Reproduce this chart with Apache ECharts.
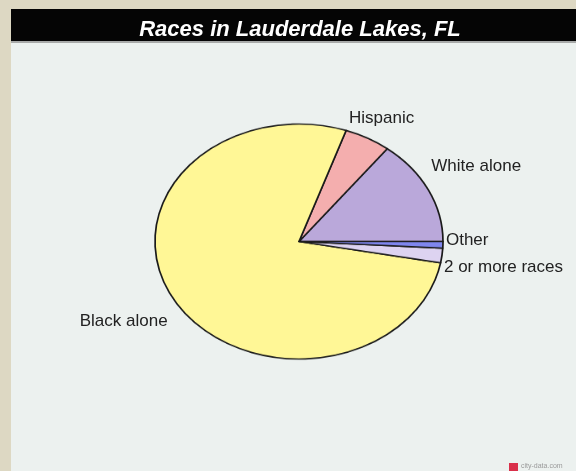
<!DOCTYPE html>
<html>
<head>
<meta charset="utf-8">
<script src="https://cdn.jsdelivr.net/npm/echarts@6/dist/echarts.min.js"></script>
<style>
  html, body { margin: 0; padding: 0; background: #ddd8c3; }
  #wrap { position: relative; width: 576px; height: 471px; overflow: hidden; }
  #bg, #pie { position: absolute; left: 0; top: 0; width: 576px; height: 471px; }
  #bg { z-index: 1; }
  #pie { z-index: 2; transform-origin: 299px 241.5px; transform: scaleY(0.816); }
</style>
</head>
<body>
<div id="wrap"><div id="bg"></div><div id="pie"></div></div>
<script>
// ---- data ----
const categories = ['White alone', 'Hispanic', 'Black alone', '2 or more races', 'Other'];
const shares = [14.5, 5.2, 77.4, 2.0, 0.9];
const titleText = 'Races in Lauderdale Lakes, FL';

// ---- styles / layout ----
const sliceColors = ['#baa8da', '#f4aeae', '#fff796', '#ddd3f1', '#7f86ee'];
const CX = 299, CY = 241.5, RX = 144, RY = 117.5;
// label placement relative to the ellipse edge at each slice's mid angle
const labelNudge = [
  { dx: 3, dy: -23, align: 'left' },
  { dx: 14, dy: -20, align: 'center' },
  { dx: -7, dy: 21, align: 'right' },
  { dx: 2, dy: 12, align: 'left' },
  { dx: 3, dy: -5, align: 'left' }
];
const fontFam = '"Liberation Sans", Arial, Helvetica, sans-serif';

const pieData = categories.map((c, i) => ({ name: c, value: shares[i], itemStyle: { color: sliceColors[i] } }));
const total = shares.reduce((a, b) => a + b, 0);
const midAngles = [];
let acc = 0;
shares.forEach(v => { midAngles.push((acc + v / 2) / total * 360); acc += v; });

// ---- pie chart (scaled vertically into an ellipse) ----
const pieChart = echarts.init(document.getElementById('pie'), null, { renderer: 'canvas' });
pieChart.setOption({
  backgroundColor: 'transparent',
  animation: false,
  series: [{
    type: 'pie',
    center: [CX, CY],
    radius: RX,
    startAngle: 0,
    clockwise: false,
    silent: true,
    label: { show: false },
    labelLine: { show: false },
    itemStyle: { borderColor: '#1a1a1a', borderWidth: 1.7 },
    data: pieData
  }]
});

// ---- background, title and labels ----
const bgChart = echarts.init(document.getElementById('bg'), null, { renderer: 'canvas' });
bgChart.setOption({
  backgroundColor: '#ddd8c3',
  animation: false,
  graphic: [
    { type: 'rect', z: -10, shape: { x: 11, y: 9, width: 565, height: 462 }, style: { fill: '#ecf1ef' } },
    { type: 'rect', z: -9, shape: { x: 11, y: 9, width: 565, height: 32 }, style: { fill: '#050505' } },
    { type: 'rect', z: -9, shape: { x: 11, y: 41, width: 565, height: 2 }, style: { fill: '#a8aaa9' } },
    { type: 'rect', z: 5, shape: { x: 509, y: 463, width: 9, height: 8 }, style: { fill: '#d9304a' } },
    { type: 'text', z: 5, x: 521, y: 463, style: { text: 'city-data.com', fontSize: 7, fill: '#9a9a9a', font: '7px ' + fontFam } }
  ],
  title: {
    text: titleText,
    left: 295,
    top: 14,
    textAlign: 'center',
    textStyle: { color: '#ffffff', fontSize: 22, fontWeight: 'bold', fontStyle: 'italic', fontFamily: fontFam }
  },
  series: [{
    type: 'pie',
    center: [CX, CY],
    radius: RX,
    startAngle: 0,
    clockwise: false,
    silent: true,
    avoidLabelOverlap: false,
    itemStyle: { color: 'rgba(0,0,0,0)', borderWidth: 0 },
    label: { show: true, position: 'outside', color: '#222', fontSize: 17, fontFamily: fontFam },
    labelLine: { show: false },
    labelLayout: function (p) {
      const i = p.dataIndex;
      const a = midAngles[i] * Math.PI / 180;
      const ex = CX + RX * Math.cos(a);
      const ey = CY - RY * Math.sin(a);
      const n = labelNudge[i];
      return { x: ex + n.dx, y: ey + n.dy, align: n.align, verticalAlign: 'middle' };
    },
    data: categories.map((c, i) => ({ name: c, value: shares[i] }))
  }]
});
</script>
</body>
</html>
